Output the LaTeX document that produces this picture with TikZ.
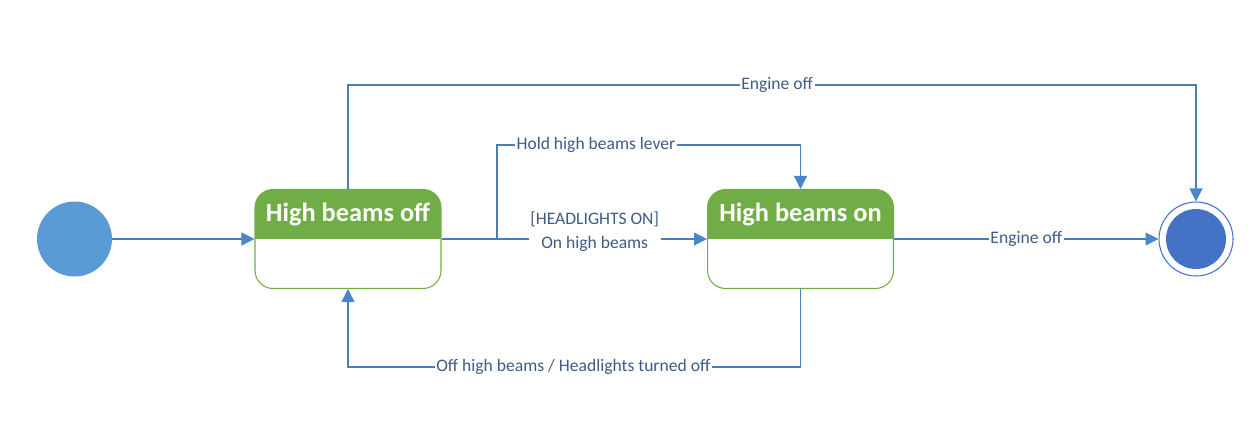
\documentclass[tikz,border=0pt]{standalone}
\usepackage{fontspec}
\setmainfont{Carlito}
\usetikzlibrary{arrows.meta}
\definecolor{stategreen}{HTML}{70AD47}
\definecolor{linkblue}{HTML}{4A7EBB}
\definecolor{tipblue}{HTML}{4A86CA}
\definecolor{labelblue}{HTML}{3E5C86}
\definecolor{startblue}{HTML}{5B9BD5}
\definecolor{endblue}{HTML}{4472C4}

\begin{document}
\begin{tikzpicture}[x=0.02cm,y=-0.02cm,
    statebox/.style={rectangle,draw=stategreen,line width=0.6pt,rounded corners=0.36cm,
        minimum width=3.72cm,minimum height=1.98cm,inner sep=0pt,
        path picture={\fill[stategreen,sharp corners] (path picture bounding box.north west) rectangle (path picture bounding box.east);}},
    statetitle/.style={text=white,font=\bfseries\fontsize{15}{18}\selectfont},
    trans/.style={color=linkblue,line width=0.6pt,-{Triangle[length=7.4pt,width=7.4pt,color=tipblue]}},
    lbl/.style={fill=white,text=labelblue,font=\fontsize{10}{13.6}\selectfont,inner sep=1pt}]
    \useasboundingbox (0,0) rectangle (1256,434);

    % Nodes
    \node (init) at (74.5,239) [circle,fill=startblue,minimum size=1.5cm,inner sep=0pt] {};
    \node (off) at (348,239) [statebox] {};
    \node (offtitle) at (348,214) [statetitle] {High beams off};
    \node (on) at (800.5,239) [statebox] {};
    \node (ontitle) at (800.5,214) [statetitle] {High beams on};
    \node (final) at (1196,239) [circle,draw=endblue,fill=white,line width=0.6pt,minimum size=1.48cm,inner sep=0pt] {};
    \node (finaldot) at (final) [circle,fill=endblue,minimum size=1.2cm,inner sep=0pt] {};

    % Corners of the bent transitions
    \coordinate (split) at (497,239);
    \coordinate (holdcorner) at (800.5,145);
    \coordinate (topcorner) at (1196,85);
    \coordinate (bottomcorner) at (800.5,367);

    % Transitions
    \path[trans] (init) edge (off);
    \path[trans] (off) edge node[lbl,pos=0.577,yshift=0.14cm,align=center] {[HEADLIGHTS ON]\\On high beams} (on);
    \path[trans] (on) edge node[lbl] {Engine off} (final);
    \draw[trans] (split) |- node[lbl,pos=0.663] {Hold high beams lever} (holdcorner) -- (on);
    \draw[trans] (off) |- node[lbl,pos=0.753] {Engine off} (topcorner) -- (final);
    \draw[trans] (on) -- (bottomcorner) -| node[lbl,pos=0.251] {Off high beams / Headlights turned off} (off);
\end{tikzpicture}
\end{document}
